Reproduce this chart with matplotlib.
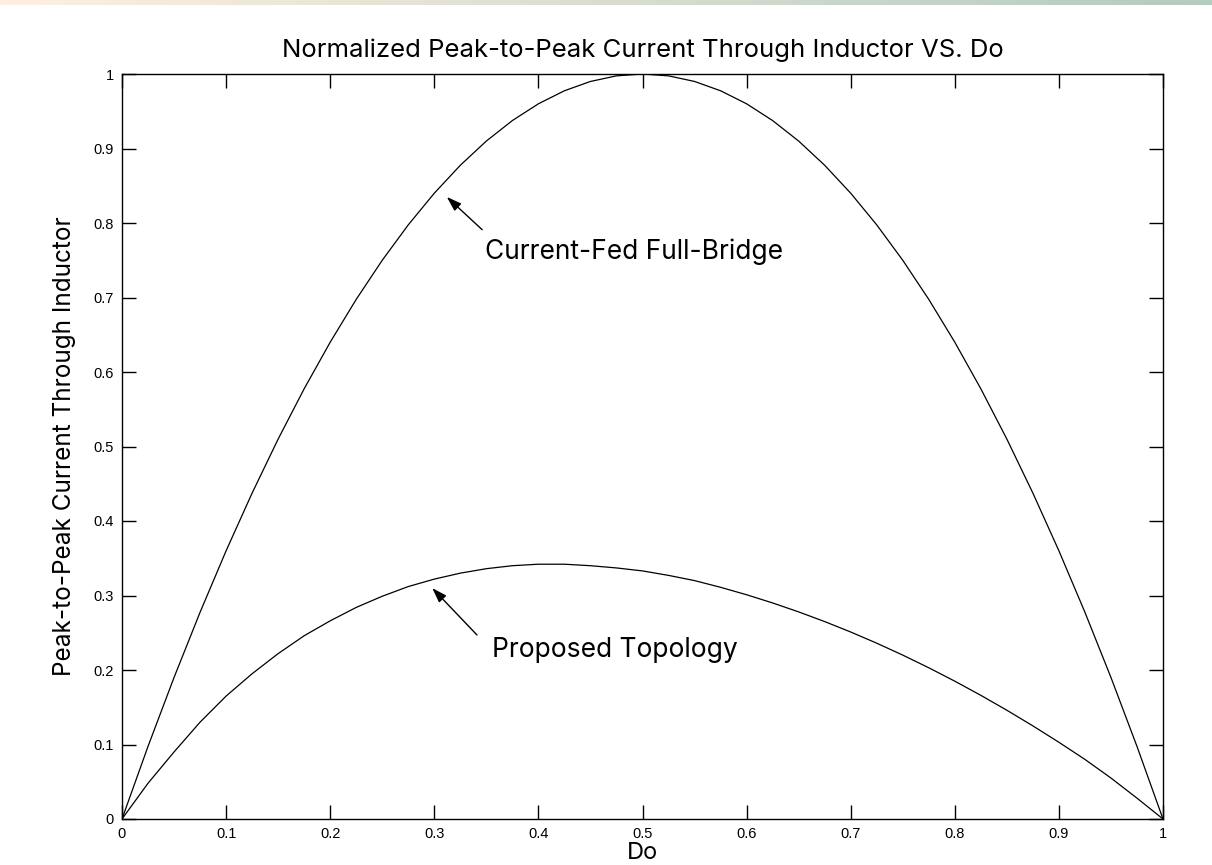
import numpy as np
import matplotlib.pyplot as plt

plt.rcParams['font.family'] = ['Inter', 'Liberation Sans', 'DejaVu Sans']

# duty cycle samples (0 .. 1 in steps of 0.025)
do = np.linspace(0, 1, 41)

# values
full_bridge = [0.0, 0.0975, 0.19, 0.2775, 0.36, 0.4375, 0.51, 0.5775, 0.64, 0.6975,
               0.75, 0.7975, 0.84, 0.8775, 0.91, 0.9375, 0.96, 0.9775, 0.99, 0.9975,
               1.0, 0.9975, 0.99, 0.9775, 0.96, 0.9375, 0.91, 0.8775, 0.84, 0.7975,
               0.75, 0.6975, 0.64, 0.5775, 0.51, 0.4375, 0.36, 0.2775, 0.19, 0.0975, 0.0]
proposed = [0.0, 0.048, 0.09, 0.13, 0.165, 0.195, 0.222, 0.246, 0.266, 0.284,
            0.299, 0.312, 0.322, 0.330, 0.336, 0.340, 0.342, 0.342, 0.340, 0.337,
            0.333, 0.327, 0.320, 0.311, 0.301, 0.290, 0.278, 0.265, 0.251, 0.236,
            0.220, 0.203, 0.185, 0.166, 0.146, 0.125, 0.103, 0.080, 0.055, 0.028, 0.0]

ticks = [0, 0.1, 0.2, 0.3, 0.4, 0.5, 0.6, 0.7, 0.8, 0.9, 1]
tick_labels = ['0', '0.1', '0.2', '0.3', '0.4', '0.5', '0.6', '0.7', '0.8', '0.9', '1']

fig = plt.figure(figsize=(12.12, 8.65), dpi=100)

# thin colour band across the top of the slide
band = fig.add_axes([0, 1 - 5 / 865, 1, 5 / 865])
grad = np.linspace(0, 1, 256)[None, :, None]
c0 = np.array([254, 240, 225]) / 255
c1 = np.array([180, 203, 192]) / 255
band.imshow(c0 + (c1 - c0) * grad, aspect='auto', extent=[0, 1, 0, 1])
band.axis('off')

ax = fig.add_axes([122 / 1212, 1 - 819 / 865, (1163 - 122) / 1212, (819 - 74) / 865])
ax.plot(do, full_bridge, color='black', lw=0.9)
ax.plot(do, proposed, color='black', lw=0.9)

ax.set_xlim(0, 1)
ax.set_ylim(0, 1)
ax.set_xticks(ticks)
ax.set_xticklabels(tick_labels, family='Liberation Sans')
ax.set_yticks(ticks)
ax.set_yticklabels(tick_labels, family='Liberation Sans')
ax.tick_params(direction='in', length=10, width=1, top=True, right=True,
               labelsize=10.5, pad=6)
for s in ax.spines.values():
    s.set_linewidth(1)

ax.set_title('Normalized Peak-to-Peak Current Through Inductor VS. Do',
             fontsize=18.5, pad=12)

ax.set_xlabel('Do', fontsize=17)
ax.xaxis.label.set_va('baseline')
ax.xaxis.set_label_coords(0.5, -(859 - 819) / 745)

ax.set_ylabel('Peak-to-Peak Current Through Inductor', fontsize=17.5)
ax.yaxis.label.set_va('center')
ax.yaxis.set_label_coords(-(122 - 65) / 1041, 0.5)

arrow = dict(arrowstyle='-|>,head_length=0.9,head_width=0.3', color='black',
             lw=1, shrinkA=0, shrinkB=0)
ax.annotate('', xy=(0.312, 0.835), xytext=(0.346, 0.791), arrowprops=arrow)
ax.text(0.349, 0.7517, 'Current-Fed Full-Bridge', fontsize=19, va='baseline', ha='left')
ax.annotate('', xy=(0.298, 0.310), xytext=(0.341, 0.247), arrowprops=arrow)
ax.text(0.355, 0.2174, 'Proposed Topology', fontsize=19, va='baseline', ha='left')

fig.savefig('out.png', dpi=100)
